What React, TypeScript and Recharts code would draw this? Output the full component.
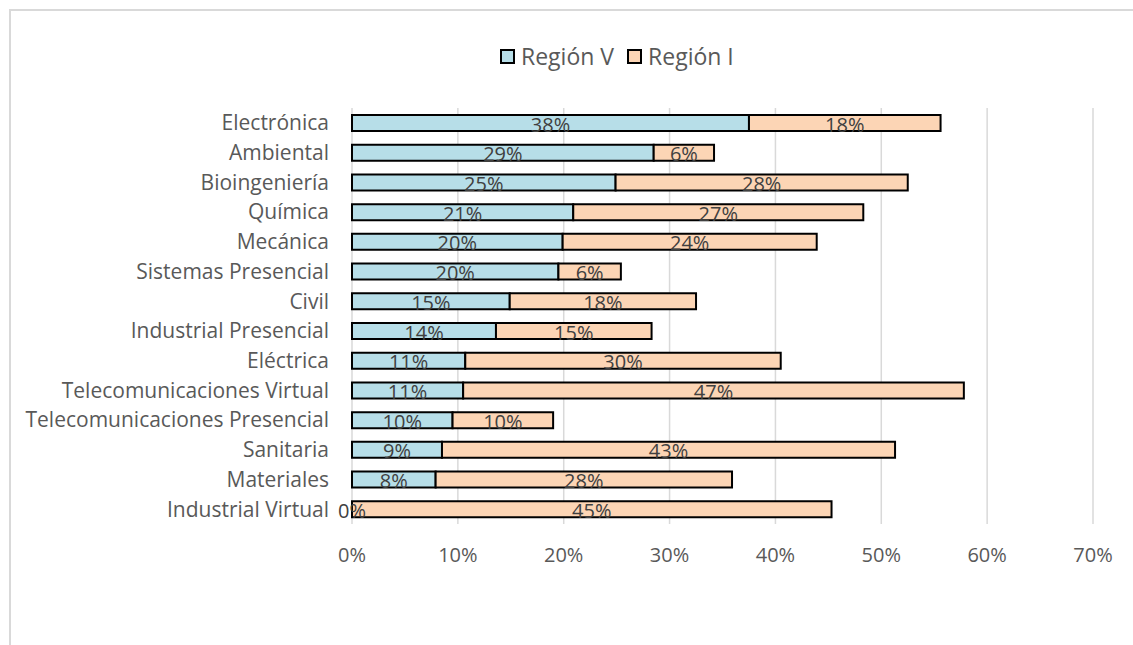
import React from 'react';
import { BarChart, Bar, XAxis, YAxis, CartesianGrid, Legend, LabelList } from 'recharts';

const categories = [
  'Electrónica',
  'Ambiental',
  'Bioingeniería',
  'Química',
  'Mecánica',
  'Sistemas Presencial',
  'Civil',
  'Industrial Presencial',
  'Eléctrica',
  'Telecomunicaciones Virtual',
  'Telecomunicaciones Presencial',
  'Sanitaria ',
  'Materiales',
  'Industrial Virtual',
];

const regionV = [37.5, 28.5, 24.9, 20.9, 19.9, 19.5, 14.9, 13.6, 10.7, 10.5, 9.5, 8.5, 7.9, 0];
const regionI = [18.1, 5.7, 27.6, 27.4, 24.0, 5.9, 17.6, 14.7, 29.8, 47.3, 9.5, 42.8, 28.0, 45.3];

const xTicks = [0, 10, 20, 30, 40, 50, 60, 70];

const seriesNames = ['Región V', 'Región I'];
const seriesColors = ['#b7dee8', '#fcd5b5'];

const data = categories.map((c, i) => ({ name: c, v: regionV[i], r1: regionI[i] }));

const FONT = '"Open Sans", sans-serif';

const LabelText = ({ cx, cy, value }: { cx: number; cy: number; value: number }) => (
  <text
    x={cx}
    y={cy + 1}
    textAnchor="middle"
    dominantBaseline="central"
    fill="#404040"
    fontSize={20}
    fontFamily={FONT}
  >
    {`${Math.round(Number(value))}%`}
  </text>
);

const SegLabel = (props: any) => {
  const { x, y, width, height, value } = props;
  if (value === undefined || value === null) return null;
  return <LabelText cx={Number(x) + Number(width) / 2} cy={Number(y) + Number(height) / 2} value={value} />;
};

// Label for a zero-length Región V segment, drawn at the start of the Región I segment
const ZeroLabel = (props: any) => {
  const { x, y, height, value } = props;
  if (Number(value) !== 0) return null;
  return <LabelText cx={Number(x)} cy={Number(y) + Number(height) / 2} value={0} />;
};

const LegendContent = () => (
  <div style={{ display: 'flex', alignItems: 'center', fontFamily: FONT, fontSize: 23, color: '#595959', whiteSpace: 'nowrap' }}>
    {seriesNames.map((n, i) => (
      <div key={n} style={{ display: 'flex', alignItems: 'center', marginRight: 13 }}>
        <div
          style={{
            width: 11,
            height: 11,
            background: seriesColors[i],
            border: '2px solid #000',
            marginRight: 6,
          }}
        />
        <span>{n}</span>
      </div>
    ))}
  </div>
);

export default function App() {
  return (
    <div style={{ position: 'absolute', left: 0, top: 0, width: 1133, height: 645, background: '#fff', overflow: 'hidden' }}>
      <div
        style={{
          position: 'absolute',
          left: 9,
          top: 9,
          width: 1200,
          height: 700,
          borderLeft: '2px solid #d9d9d9',
          borderTop: '2px solid #d9d9d9',
          boxSizing: 'border-box',
        }}
      />
      <div style={{ position: 'absolute', left: 0, top: 0 }}>
        <BarChart
          width={1133}
          height={645}
          data={data}
          layout="vertical"
          margin={{ top: 80, right: 40, bottom: 91, left: 12 }}
          barSize={16}
        >
          <CartesianGrid horizontal={false} vertical stroke="#d9d9d9" strokeWidth={1.5} />
          <XAxis
            type="number"
            domain={[0, 70]}
            ticks={xTicks}
            tickFormatter={(v: number) => `${v}%`}
            axisLine={false}
            tickLine={false}
            height={30}
            tick={{ fill: '#595959', fontSize: 20, fontFamily: FONT }}
            tickMargin={18}
            interval={0}
          />
          <YAxis
            type="category"
            dataKey="name"
            width={340}
            axisLine={false}
            tickLine={false}
            interval={0}
            tickMargin={17}
            tick={{ fill: '#595959', fontSize: 21, fontFamily: FONT }}
          />
          <Legend
            verticalAlign="top"
            align="left"
            content={<LegendContent />}
            wrapperStyle={{ position: 'absolute', left: 500, top: 40, width: 320, height: 28 }}
          />
          <Bar dataKey="v" name={seriesNames[0]} stackId="a" fill={seriesColors[0]} stroke="#000" strokeWidth={2} isAnimationActive={false}>
            <LabelList dataKey="v" content={SegLabel} />
          </Bar>
          <Bar dataKey="r1" name={seriesNames[1]} stackId="a" fill={seriesColors[1]} stroke="#000" strokeWidth={2} isAnimationActive={false}>
            <LabelList dataKey="r1" content={SegLabel} />
            <LabelList dataKey="v" content={ZeroLabel} />
          </Bar>
        </BarChart>
      </div>
    </div>
  );
}
